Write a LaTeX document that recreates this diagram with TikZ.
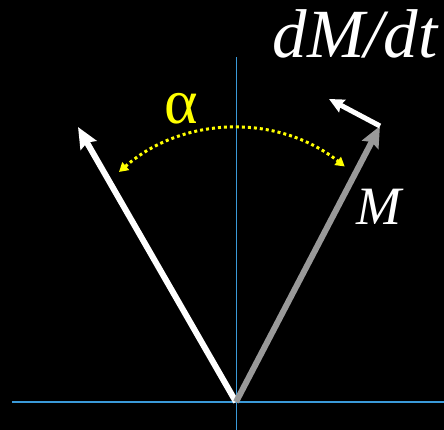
\documentclass[tikz,border=0pt]{standalone}
\usepackage{fontspec}
\setmainfont{Liberation Serif}
\usetikzlibrary{arrows.meta}
\definecolor{axisblue}{HTML}{3A9AD9}
\definecolor{mgray}{HTML}{999999}
\definecolor{ayellow}{HTML}{FFFF00}
\tikzset{
  axisline/.style={draw=axisblue, line width=1.3pt},
  bigvec/.style={line width=6pt, -{Stealth[length=21pt, width=18pt, inset=3pt]}},
  smallvec/.style={line width=5pt, -{Stealth[length=15pt, width=14pt, inset=2pt]}},
  anglearc/.style={draw=ayellow, line width=3pt, dash pattern=on 3pt off 3pt,
    {Triangle[length=9pt, width=10pt]}-{Triangle[length=9pt, width=10pt]}},
  lbl/.style={text=white, inner sep=0pt, anchor=base, font=\itshape}
}
\begin{document}
\begin{tikzpicture}[x=1pt, y=1pt]
  \fill[black] (0,0) rectangle (444,430);
  \useasboundingbox (0,0) rectangle (444,430);
  % axes
  \coordinate (hx0) at (12,28);
  \coordinate (hx1) at (444,28);
  \coordinate (vy0) at (236.5,0);
  \coordinate (vy1) at (236.5,373);
  \draw[axisline] (hx0) -- (hx1);
  \draw[axisline] (vy0) -- (vy1);
  % vectors
  \coordinate (O) at (236,28);
  \coordinate (A) at (78,303);
  \coordinate (B) at (380,304);
  \coordinate (C) at (329,331);
  \draw[bigvec, white] (O) -- (A);
  \draw[bigvec, mgray] (O) -- (B);
  \draw[smallvec, white] (B) -- (C);
  % angle arc
  \coordinate (L) at (119,258);
  \draw[anglearc] (L) arc[start angle=131.3, end angle=51.5, radius=176];
  % labels
  \node[lbl, font=\fontsize{69}{75}\selectfont\itshape] (dmdt) at (355,372) {dM/dt};
  \node[lbl, font=\fontsize{54}{60}\selectfont\itshape] (mlabel) at (379,205) {M};
  \node[lbl, text=ayellow, font=\fontsize{64}{70}\selectfont] (alpha) at (181.5,306) {α};
\end{tikzpicture}
\end{document}
